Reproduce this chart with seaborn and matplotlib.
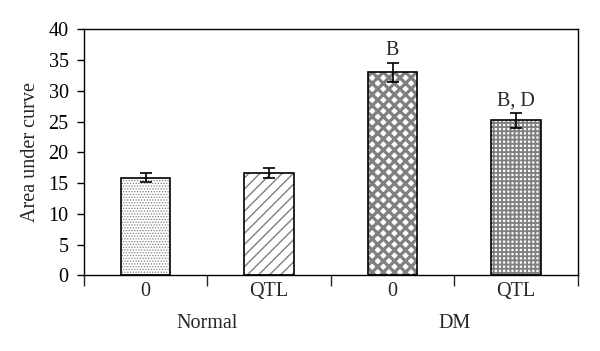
import matplotlib
matplotlib.use("Agg")
import matplotlib.pyplot as plt
import seaborn as sns
import pandas as pd
import numpy as np

groups = ["Normal", "Normal", "DM", "DM"]
treatments = ["0", "QTL", "0", "QTL"]
values = [15.9, 16.6, 33.0, 25.2]
errors = [0.8, 0.8, 1.6, 1.2]
annotations = ["", "", "B", "B, D"]
hatches = ["......", "///", "xxx", "++++"]

sns.set_theme(style="white")
plt.rcParams["font.family"] = ["Liberation Serif", "DejaVu Serif"]
plt.rcParams["hatch.linewidth"] = 1.0

df = pd.DataFrame({"cat": [f"{g}-{t}" for g, t in zip(groups, treatments)],
                   "value": values})

fig = plt.figure(figsize=(6.0, 3.51), dpi=100)
ax = fig.add_axes([0.14, 0.2157, 0.823, 0.7008])

FS = 14.5

sns.barplot(data=df, x="cat", y="value", ax=ax, width=0.4,
            color="white", edgecolor="#808080", linewidth=0, errorbar=None)
for p, h in zip(ax.patches, hatches):
    p.set_hatch(h)
    p.set_facecolor("white")
    p.set_edgecolor("#808080")
    p.set_linewidth(0)
lw_map = [0.6, 1.0, 2.3, 1.35]
for p, lw in zip(ax.patches, lw_map):
    if hasattr(p, "set_hatch_linewidth"):
        p.set_hatch_linewidth(lw)

sns.barplot(data=df, x="cat", y="value", ax=ax, width=0.4,
            fill=False, edgecolor="black", linewidth=1.2, errorbar=None)

xpos = np.arange(len(values))
ax.errorbar(xpos, values, yerr=errors, fmt="none", ecolor="black",
            elinewidth=1.2, capsize=4, capthick=1.2, zorder=5)

for x, v, e, a in zip(xpos, values, errors, annotations):
    if a:
        ax.text(x, v + e + 0.4, a, ha="center", va="bottom", fontsize=FS)

ax.set_xlim(-0.5, 3.5)
ax.set_ylim(0, 40)
ax.set_yticks(np.arange(0, 41, 5))
ax.tick_params(axis="y", which="major", direction="out", length=5, width=1,
               labelsize=FS, pad=6, left=True, colors="black")
ax.set_xticks(np.arange(-0.5, 4.0, 1.0))
ax.set_xticklabels([""] * 5)
ax.tick_params(axis="x", which="major", direction="out", length=8, width=1,
               bottom=True)
ax.set_xticks(xpos, minor=True)
ax.set_xticklabels(treatments, minor=True)
ax.tick_params(axis="x", which="minor", length=0, labelsize=FS, pad=5)
ax.set_xlabel("")
ax.set_ylabel("Area under curve", fontsize=FS, labelpad=6)

for s in ax.spines.values():
    s.set_visible(True)
    s.set_color("black")
    s.set_linewidth(1.0)

group_names = ["Normal", "DM"]
for i, g in enumerate(group_names):
    ax.text(0.5 + 2 * i, -0.195, g, transform=ax.get_xaxis_transform(),
            ha="center", va="center", fontsize=FS)

fig.savefig("out.png", dpi=100)
